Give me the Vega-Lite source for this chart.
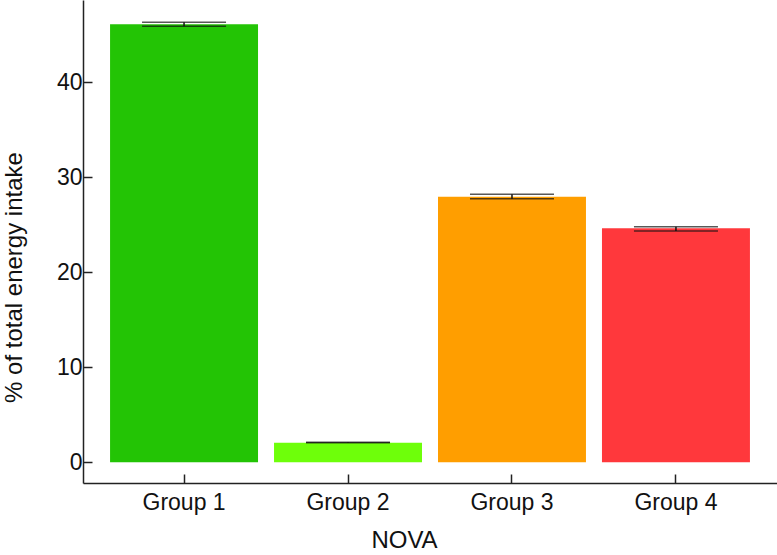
{
  "$schema": "https://vega.github.io/schema/vega-lite/v6.json",
  "width": 694,
  "height": 483,
  "autosize": {"type": "none"},
  "padding": {"left": 83, "top": 0, "right": 0, "bottom": 72},
  "background": "white",
  "config": {
    "view": {"stroke": null},
    "font": "Liberation Sans",
    "axis": {
      "grid": false,
      "domainColor": "#222222",
      "domainWidth": 1.5,
      "ticks": true,
      "tickColor": "#222222",
      "tickWidth": 1.5,
      "labelFont": "Liberation Sans",
      "titleFont": "Liberation Sans",
      "labelColor": "#111111",
      "titleColor": "#111111",
      "labelFontSize": 23,
      "titleFontSize": 24,
      "titleFontWeight": "normal"
    }
  },
  "data": {
    "values": [
      {"Group": "Group 1", "mean": 46.12, "lo": 45.91, "hi": 46.33},
      {"Group": "Group 2", "mean": 2.06, "lo": 2.06, "hi": 2.12},
      {"Group": "Group 3", "mean": 27.97, "lo": 27.75, "hi": 28.22},
      {"Group": "Group 4", "mean": 24.64, "lo": 24.36, "hi": 24.81}
    ]
  },
  "encoding": {
    "x": {
      "field": "Group",
      "type": "nominal",
      "sort": null,
      "scale": {"paddingInner": 0.0976, "paddingOuter": 0.165},
      "axis": {
        "title": "NOVA",
        "labelAngle": 0,
        "tickSize": -9,
        "labelPadding": 17,
        "titleX": 321,
        "titleY": 64,
        "titleAlign": "center",
        "titleBaseline": "alphabetic"
      }
    }
  },
  "layer": [
    {
      "mark": {"type": "bar"},
      "encoding": {
        "y": {
          "field": "mean",
          "type": "quantitative",
          "scale": {"domain": [-2.18, 48.68], "nice": false, "zero": false},
          "axis": {
            "title": "% of total energy intake",
            "values": [0, 10, 20, 30, 40],
            "tickSize": -9,
            "labelPadding": 10,
            "titleX": -62,
            "titleY": 277,
            "titleAngle": -90,
            "titleAlign": "center",
            "titleBaseline": "alphabetic"
          }
        },
        "y2": {"datum": 0},
        "color": {
          "field": "Group",
          "type": "nominal",
          "legend": null,
          "scale": {
            "domain": ["Group 1", "Group 2", "Group 3", "Group 4"],
            "range": ["#23c405", "#6eff0a", "#ff9e00", "#ff383c"]
          }
        }
      }
    },
    {
      "mark": {"type": "rule", "color": "#111111", "strokeWidth": 1.5},
      "encoding": {
        "y": {"field": "lo", "type": "quantitative"},
        "y2": {"field": "hi"}
      }
    },
    {
      "mark": {"type": "tick", "color": "#111111", "size": 84, "thickness": 1.5},
      "encoding": {
        "y": {"field": "lo", "type": "quantitative"}
      }
    },
    {
      "mark": {"type": "tick", "color": "#111111", "size": 84, "thickness": 1.5},
      "encoding": {
        "y": {"field": "hi", "type": "quantitative"}
      }
    }
  ]
}
